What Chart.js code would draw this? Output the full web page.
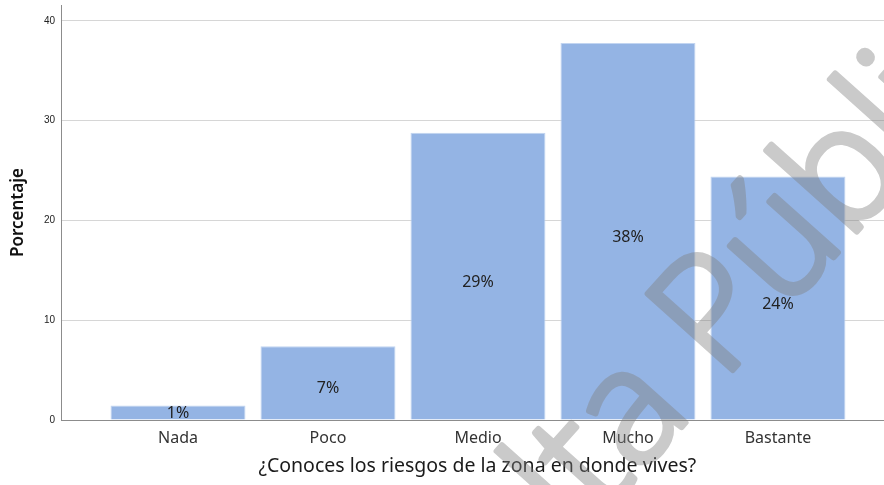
<!DOCTYPE html>
<html>
<head>
<meta charset="utf-8">
<script src="https://cdn.jsdelivr.net/npm/chart.js@4"></script>
<style>
  html, body { margin: 0; padding: 0; background: #ffffff; }
  #wrap { width: 884px; height: 485px; }
</style>
</head>
<body>
<div id="wrap"><canvas id="chart" width="884" height="485"></canvas></div>
<script>
// Survey answers and their share of respondents (%)
const categories = ['Nada', 'Poco', 'Medio', 'Mucho', 'Bastante'];
const percentages = [1.45, 7.4, 28.8, 37.8, 24.4];
const yTicks = [0, 10, 20, 30, 40];
const xAxisTitle = '¿Conoces los riesgos de la zona en donde vives?';
const yAxisTitle = 'Porcentaje';
const watermarkText = 'Consulta Pública';

const barPoints = categories.map((c, i) => ({ x: i, y: percentages[i] }));

// Percentage written in the middle of each bar (kept inside short bars)
const barLabels = {
  id: 'barLabels',
  afterDatasetsDraw(chart) {
    const ctx = chart.ctx;
    const meta = chart.getDatasetMeta(0);
    ctx.save();
    ctx.font = '16px "Noto Sans", "Open Sans", sans-serif';
    ctx.fillStyle = '#222222';
    ctx.textAlign = 'center';
    ctx.textBaseline = 'middle';
    meta.data.forEach((bar, i) => {
      const v = percentages[i];
      const mid = (bar.y + bar.base) / 2;
      ctx.fillText(Math.round(v) + '%', bar.x, Math.min(mid + 6, bar.base - 6));
    });
    ctx.restore();
  }
};

// Diagonal translucent stamp across the figure, rendered opaque off-screen
// and then laid over the chart with a single alpha.
const watermark = {
  id: 'watermark',
  afterDraw(chart) {
    const ctx = chart.ctx;
    const off = document.createElement('canvas');
    off.width = chart.width;
    off.height = chart.height;
    const o = off.getContext('2d');
    o.font = '300 160px "Open Sans", "Noto Sans", sans-serif';
    o.fillStyle = '#808080';
    o.strokeStyle = '#808080';
    o.lineWidth = 6;
    o.lineJoin = 'round';
    o.textBaseline = 'alphabetic';
    const lead = o.measureText('Consulta ').width;
    o.translate(722, 382);
    o.rotate(-0.84);
    o.fillText(watermarkText, -lead, 0);
    o.strokeText(watermarkText, -lead, 0);
    ctx.save();
    ctx.globalAlpha = 0.42;
    ctx.drawImage(off, 0, 0);
    ctx.restore();
  }
};

new Chart(document.getElementById('chart'), {
  type: 'bar',
  data: {
    datasets: [{
      data: barPoints,
      backgroundColor: '#94b4e4',
      borderColor: '#c2d5f1',
      borderWidth: 1,
      categoryPercentage: 1.0,
      barPercentage: 0.9
    }]
  },
  options: {
    responsive: false,
    animation: false,
    devicePixelRatio: 1,
    layout: { padding: { top: 5, right: 0, bottom: 0, left: 0 } },
    plugins: {
      legend: { display: false },
      tooltip: { enabled: false }
    },
    scales: {
      x: {
        type: 'linear',
        min: -0.78,
        max: 4.707,
        offset: false,
        afterBuildTicks(scale) {
          scale.ticks = categories.map((c, i) => ({ value: i }));
        },
        afterFit(scale) {
          scale.height = 65;
          scale.paddingLeft = 0;
          scale.paddingRight = 0;
        },
        grid: { display: false, drawTicks: false },
        border: { display: true, color: '#8c8c8c', width: 1 },
        ticks: {
          autoSkip: false,
          maxRotation: 0,
          padding: 9,
          color: '#333333',
          font: { family: '"Noto Sans", "Open Sans", sans-serif', size: 16 },
          callback: (v) => categories[v] ?? ''
        },
        title: {
          display: true,
          text: '\u2002' + xAxisTitle,
          color: '#1a1a1a',
          font: { family: '"Noto Sans", "Open Sans", sans-serif', size: 19.5 },
          padding: { top: 0, bottom: 7 }
        }
      },
      y: {
        min: 0,
        max: 41.6,
        afterBuildTicks(scale) {
          scale.ticks = yTicks.map(v => ({ value: v }));
        },
        afterFit(scale) {
          scale.width = 61;
          scale.paddingTop = 0;
          scale.paddingBottom = 0;
        },
        grid: { color: '#d6d6d6', lineWidth: 1, drawTicks: false },
        border: { display: true, color: '#8c8c8c', width: 1 },
        ticks: {
          padding: 6,
          color: '#222222',
          font: { family: '"Liberation Sans", Arial, sans-serif', size: 10 }
        },
        title: {
          display: true,
          text: yAxisTitle,
          color: '#111111',
          font: { family: '"Noto Sans", "Open Sans", sans-serif', size: 17, weight: '600' },
          padding: { top: 8, bottom: 0 }
        }
      }
    }
  },
  plugins: [barLabels, watermark]
});
</script>
</body>
</html>
